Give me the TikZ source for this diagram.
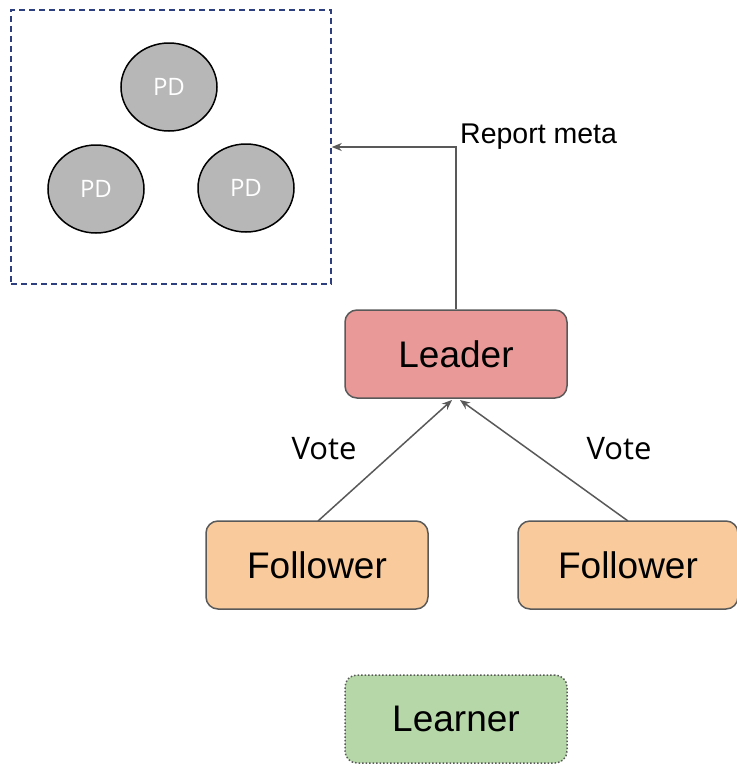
\documentclass[tikz,border=0pt]{standalone}
\usepackage{fontspec}
\setmainfont{Liberation Sans}
\newfontfamily\labelfont{Open Sans}
\usetikzlibrary{arrows.meta,shapes.geometric}
\definecolor{pdfill}{HTML}{B7B7B7}
\definecolor{leaderfill}{HTML}{EA9999}
\definecolor{followfill}{HTML}{F9CB9C}
\definecolor{learnfill}{HTML}{B6D7A8}
\definecolor{edgegray}{HTML}{595959}
\definecolor{groupblue}{HTML}{2E3F80}
\tikzset{
  pd/.style={ellipse, draw=black, line width=1.5pt, fill=pdfill, minimum width=96pt, minimum height=88pt, inner sep=0pt, text=white, font=\labelfont\fontsize{24}{26}\selectfont},
  rolebox/.style={draw=edgegray, line width=1.5pt, rounded corners=12pt, minimum width=222pt, minimum height=88pt, inner sep=0pt, font=\fontsize{37}{40}\selectfont},
  link/.style={draw=edgegray, line width=1.5pt, -{Stealth[length=10pt,width=8pt]}},
  votelabel/.style={font=\labelfont\fontsize{31}{33}\selectfont},
}
\begin{document}
\begin{tikzpicture}[x=1pt,y=-1pt]
\useasboundingbox (0,0) rectangle (737,764);
% PD group
\node[draw=groupblue, line width=1.5pt, dash pattern=on 6pt off 4pt, minimum width=320pt, minimum height=274pt, inner sep=0pt] (group) at (171,147) {};
\node[pd] (pd1) at (169,87) {PD};
\node[pd] (pd2) at (96,189) {PD};
\node[pd] (pd3) at (246,188) {PD};
% role nodes
\node[rolebox, fill=leaderfill] (leader) at (456,354) {Leader};
\node[rolebox, fill=followfill] (f1) at (317,565) {Follower};
\node[rolebox, fill=followfill, minimum width=220pt] (f2) at (628,565) {Follower};
\node[rolebox, fill=learnfill, dotted] (learner) at (456,719) {Learner};
% connectors
\coordinate (bend) at (456,147);
\draw[link] (leader.north) -- (bend) -- (group.east);
\node[font=\fontsize{28.5}{30}\selectfont, anchor=west, inner sep=0pt] (report) at (460,137) {Report meta};
\coordinate (tipl) at (452,400);
\coordinate (tipr) at (460,400);
\coordinate (f1top) at (318,521);
\coordinate (f2top) at (628,521);
\draw[link] (f1top) -- (tipl);
\draw[link] (f2top) -- (tipr);
\node[votelabel] (v1) at (324,449) {Vote};
\node[votelabel] (v2) at (619,449) {Vote};
\end{tikzpicture}
\end{document}
